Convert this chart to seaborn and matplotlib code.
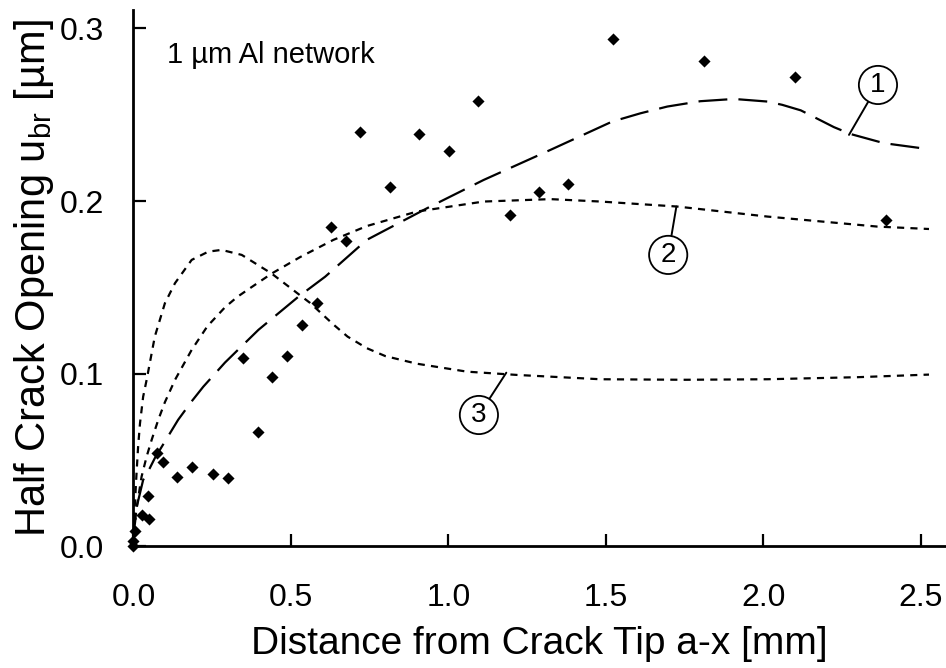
import pandas as pd
import matplotlib
matplotlib.use("Agg")
import matplotlib.pyplot as plt
import seaborn as sns

sns.set_theme(style="ticks")
plt.rcParams["font.family"] = ["Liberation Sans", "DejaVu Sans"]
plt.rcParams["mathtext.fontset"] = "custom"
plt.rcParams["mathtext.rm"] = "Liberation Sans"
plt.rcParams["mathtext.it"] = "Liberation Sans:italic"
plt.rcParams["text.color"] = "black"
plt.rcParams["axes.labelcolor"] = "black"

# ── Data ──────────────────────────────────────────────────
# measured half crack openings (diamonds)
meas_x = [0.0, 0.0, 0.005, 0.026, 0.049, 0.045, 0.075, 0.093, 0.139, 0.187,
          0.252, 0.301, 0.347, 0.395, 0.439, 0.488, 0.536, 0.582, 0.628, 0.675,
          0.721, 0.814, 0.907, 1.001, 1.095, 1.195, 1.288, 1.380, 1.524, 1.813,
          2.099, 2.389]
meas_y = [0.0, 0.003, 0.009, 0.018, 0.016, 0.029, 0.054, 0.049, 0.040, 0.046,
          0.042, 0.0395, 0.109, 0.066, 0.098, 0.110, 0.128, 0.141, 0.185, 0.177,
          0.240, 0.208, 0.239, 0.229, 0.258, 0.192, 0.205, 0.210, 0.294, 0.281,
          0.272, 0.189]

# model curve 1 (long dashes)
c1_x = [0.0, 0.004, 0.012, 0.031, 0.052, 0.068, 0.10, 0.142, 0.185, 0.222,
        0.291, 0.397, 0.524, 0.609, 0.741, 0.932, 1.112, 1.324, 1.52, 1.61,
        1.695, 1.80, 1.907, 2.013, 2.06, 2.119, 2.17, 2.224, 2.277, 2.383, 2.526]
c1_y = [0.0, 0.012, 0.024, 0.0385, 0.0453, 0.0511, 0.0607, 0.0733, 0.084, 0.0925,
        0.1065, 0.1254, 0.1446, 0.1562, 0.1775, 0.1958, 0.2122, 0.2296, 0.246, 0.2508,
        0.2547, 0.2578, 0.2591, 0.2576, 0.2557, 0.2525, 0.2478, 0.2428, 0.2388, 0.2335, 0.230]

# model curve 2 (short dashes)
c2_x = [0.0, 0.004, 0.01, 0.026, 0.042, 0.058, 0.079, 0.10, 0.132, 0.185,
        0.235, 0.291, 0.33, 0.370, 0.439, 0.529, 0.635, 0.741, 0.90, 1.112,
        1.324, 1.483, 1.727, 2.013, 2.362, 2.526]
c2_y = [0.0, 0.012, 0.022, 0.0404, 0.052, 0.0617, 0.0733, 0.0835, 0.0964, 0.1138,
        0.1275, 0.1385, 0.1445, 0.1495, 0.158, 0.1675, 0.1775, 0.1855, 0.1939, 0.1997,
        0.2011, 0.1997, 0.1968, 0.191, 0.1852, 0.1838]

# model curve 3 (short dashes, peaked)
c3_x = [0.0, 0.004, 0.007, 0.010, 0.015, 0.021, 0.031, 0.042, 0.068, 0.10,
        0.132, 0.185, 0.238, 0.28, 0.344, 0.439, 0.535, 0.561, 0.635, 0.68,
        0.741, 0.80, 0.90, 1.059, 1.218, 1.483, 1.75, 2.013, 2.30, 2.526]
c3_y = [0.0, 0.022, 0.032, 0.0424, 0.0578, 0.0713, 0.0867, 0.0964, 0.1215, 0.1408,
        0.1524, 0.1659, 0.1707, 0.1717, 0.1688, 0.158, 0.1446, 0.141, 0.1285, 0.1215,
        0.1148, 0.1102, 0.1058, 0.1012, 0.0993, 0.0968, 0.0965, 0.0968, 0.098, 0.0995]

curves = pd.concat([
    pd.DataFrame({"x": c1_x, "y": c1_y, "curve": "1"}),
    pd.DataFrame({"x": c2_x, "y": c2_y, "curve": "2"}),
    pd.DataFrame({"x": c3_x, "y": c3_y, "curve": "3"}),
], ignore_index=True)

# label circles: (text, point on curve, circle centre)
labels = [("1", (2.272, 0.2383), (2.364, 0.2672)),
          ("2", (1.724, 0.1968), (1.698, 0.1688)),
          ("3", (1.184, 0.1006), (1.097, 0.0761))]

# ── Plot ──────────────────────────────────────────────────
fig = plt.figure(figsize=(9.46, 6.68), dpi=100)
ax = fig.add_axes([0.141, 0.182, 0.859, 0.803])

sns.lineplot(data=curves, x="x", y="y", style="curve", estimator=None,
             sort=False, color="black", linewidth=1.6, legend=False,
             dashes={"1": (13, 5), "2": (3.2, 2.8), "3": (3.2, 2.8)}, ax=ax)
sns.scatterplot(x=meas_x, y=meas_y, marker="D", s=38, color="black",
                linewidth=0, clip_on=False, zorder=3, ax=ax)

for txt, pt, ctr in labels:
    ax.annotate(txt, xy=pt, xytext=ctr, ha="center", va="center", fontsize=20,
                bbox=dict(boxstyle="circle,pad=0.22", fc="white", ec="black", lw=1.3),
                arrowprops=dict(arrowstyle="-", lw=1.4, color="black",
                                shrinkA=0, shrinkB=0))

ax.text(0.106, 0.28, "1 µm Al network", fontsize=21, va="baseline")

ax.set_xlim(0, 2.58)
ax.set_ylim(0, 0.3106)
ax.set_xticks([0.0, 0.5, 1.0, 1.5, 2.0, 2.5])
ax.set_yticks([0.0, 0.1, 0.2, 0.3])
ax.xaxis.set_major_formatter(matplotlib.ticker.FormatStrFormatter("%.1f"))
ax.yaxis.set_major_formatter(matplotlib.ticker.FormatStrFormatter("%.1f"))
ax.tick_params(direction="in", length=9, width=1.6, labelsize=23, colors="black")
ax.tick_params(axis="x", pad=26)
ax.tick_params(axis="y", pad=21)
sns.despine(ax=ax)
for s in ["left", "bottom"]:
    ax.spines[s].set_linewidth(2.0)
    ax.spines[s].set_color("black")

ax.set_xlabel("Distance from Crack Tip a-x [mm]", fontsize=28, labelpad=10)
ax.set_ylabel("Half Crack Opening u$_{\\mathrm{br}}$ [µm]", fontsize=30, labelpad=3)

fig.savefig("out.png", dpi=100)
